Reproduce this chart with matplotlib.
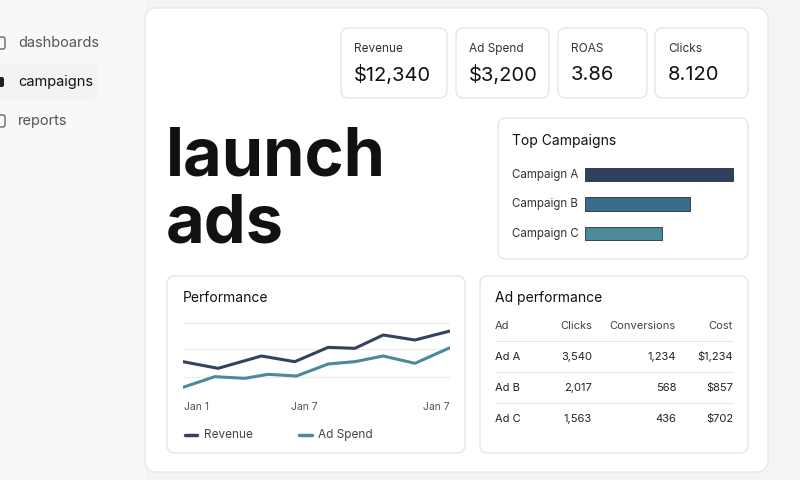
import matplotlib
matplotlib.use("Agg")
import matplotlib.pyplot as plt
from matplotlib.patches import FancyBboxPatch, Rectangle

plt.rcParams['font.family'] = ['Inter', 'DejaVu Sans']

nav_items = ["dashboards", "campaigns", "reports"]
kpi_labels = ["Revenue", "Ad Spend", "ROAS", "Clicks"]
kpi_values = ["$12,340", "$3,200", "3.86", "8.120"]
camp_names = ["Campaign A", "Campaign B", "Campaign C"]
camp_values = [100, 71, 52]
perf_x = [55, 160, 290, 390, 490, 570, 655, 750, 855]
perf_rev = [145, 125, 162, 145, 188, 185, 225, 210, 237]
perf_x2 = [55, 150, 240, 310, 395, 490, 570, 655, 750, 855]
perf_ad = [68, 100, 95, 107, 102, 138, 145, 162, 140, 187]
perf_ticks = ["Jan 1", "Jan 7", "Jan 7"]
table_cols = ["Ad", "Clicks", "Conversions", "Cost"]
table_rows = [["Ad A", "3,540", "1,234", "$1,234"],
              ["Ad B", "2,017", "568", "$857"],
              ["Ad C", "1,563", "436", "$702"]]

W, H = 800, 480
fig = plt.figure(figsize=(8, 4.8), dpi=100)
fig.patch.set_facecolor("#f4f4f5")
bg = fig.add_axes([0, 0, 1, 1])
bg.set_xlim(0, W); bg.set_ylim(H, 0); bg.axis("off")

def card(x, y, w, h, fc="white", ec="#e6e6e8", r=8, z=1):
    bg.add_patch(FancyBboxPatch((x, y), w, h, boxstyle=f"round,pad=0,rounding_size={r}",
                                fc=fc, ec=ec, lw=1, zorder=z))

# sidebar
bg.add_patch(Rectangle((0, 0), 146, 480, fc="#f8f8f9", ec="none", zorder=0))
card(145, 8, 623, 464, fc="white", ec="#e8e8ea", r=12, z=0.5)
bg.add_patch(FancyBboxPatch((-10, 64), 108, 36, boxstyle="round,pad=0,rounding_size=6",
                            fc="#f3f3f4", ec="none", zorder=0.6))
for i, t in enumerate(nav_items):
    y = 43 + i * 39
    bg.text(18, y, t, fontsize=10.5, va="center", color="#111" if i == 1 else "#555", zorder=2)
    if i == 1:
        bg.add_patch(FancyBboxPatch((-4, y - 5), 8, 10, boxstyle="round,pad=0,rounding_size=2",
                                    fc="#222", ec="none", zorder=2))
    else:
        bg.add_patch(FancyBboxPatch((-4, y - 6), 9, 12, boxstyle="round,pad=0,rounding_size=2",
                                    fc="none", ec="#666", lw=1, zorder=2))

# KPI cards
kx = [341, 456, 558, 655]; kw = [106, 93, 89, 93]
for x, w, l, v in zip(kx, kw, kpi_labels, kpi_values):
    card(x, 28, w, 70)
    bg.text(x + 13, 49, l, fontsize=8.5, va="center", color="#333", zorder=2)
    bg.text(x + 13, 75, v, fontsize=14.5, va="center", color="#111", zorder=2)

# title
bg.text(166, 158, "launch", fontsize=48, fontweight="bold", va="center", color="#111", zorder=2)
bg.text(166, 225, "ads", fontsize=48, fontweight="bold", va="center", color="#111", zorder=2)

# top campaigns
card(498, 118, 250, 141)
bg.text(512, 141, "Top Campaigns", fontsize=10, va="center", color="#111", zorder=2)
cax = fig.add_axes([585 / W, 1 - 248 / H, 150 / W, 88 / H])
cax.set_xlim(0, 100 * 150 / 148); cax.set_ylim(2.5, -0.5); cax.axis("off")
colors = ["#2f3f5e", "#3a6a8c", "#4a8a99"]
cax.barh(range(3), camp_values, height=0.45, color=colors, edgecolor="#243047", lw=0.6)
for i, n in enumerate(camp_names):
    bg.text(512, 175 + i * 29.5, n, fontsize=8.3, va="center", color="#333", zorder=2)

# performance card
card(167, 276, 298, 177)
bg.text(183, 298, "Performance", fontsize=10, va="center", color="#111", zorder=2)
pax = fig.add_axes([183 / W, 1 - 396 / H, 267 / W, 76 / H])
pax.set_xlim(55, 855); pax.set_ylim(42, 270)
for g in [42, 100, 182, 260]:
    pax.axhline(g, color="#ececec", lw=0.8, zorder=0)
pax.plot(perf_x, perf_rev, color="#33435f", lw=2.2, solid_capstyle="round")
pax.plot(perf_x2, perf_ad, color="#4a8a99", lw=2.2, solid_capstyle="round")
pax.axis("off")
for t, x, ha in zip(perf_ticks, [184, 304, 450], ["left", "center", "right"]):
    bg.text(x, 407, t, fontsize=7.5, ha=ha, va="center", color="#555", zorder=2)
bg.plot([185, 197], [435, 435], color="#33435f", lw=2.5, solid_capstyle="round", zorder=2)
bg.text(204, 435, "Revenue", fontsize=8.5, va="center", color="#444", zorder=2)
bg.plot([299, 312], [435, 435], color="#4a8a99", lw=2.5, solid_capstyle="round", zorder=2)
bg.text(318, 435, "Ad Spend", fontsize=8.5, va="center", color="#444", zorder=2)

# table card
card(480, 276, 268, 177)
bg.text(495, 298, "Ad performance", fontsize=10, va="center", color="#111", zorder=2)
cx = [495, 592, 676, 733]; has = ["left", "right", "right", "right"]
for c, x, ha in zip(table_cols, cx, has):
    bg.text(x, 326, c, fontsize=8, ha=ha, va="center", color="#444", zorder=2)
for r, row in enumerate(table_rows):
    y = 357 + r * 31
    bg.plot([495, 733], [y - 16, y - 16], color="#e8e8e8", lw=0.8, zorder=2)
    for v, x, ha in zip(row, cx, has):
        bg.text(x, y, v, fontsize=8, ha=ha, va="center", color="#222", zorder=2)

fig.savefig("out.png", dpi=100, facecolor=fig.get_facecolor())
